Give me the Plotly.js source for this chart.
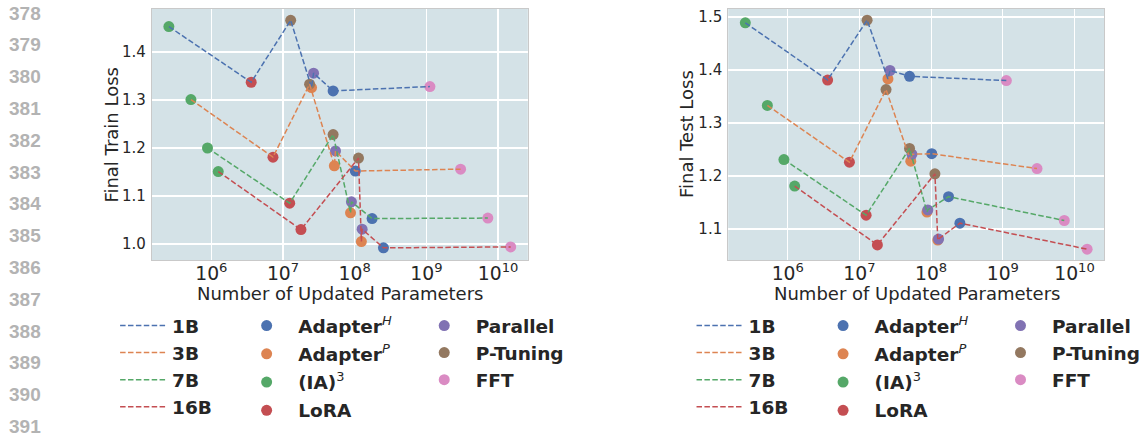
<!DOCTYPE html>
<html><head><meta charset="utf-8">
<script src="https://cdn.plot.ly/plotly-3.0.1.min.js"></script>
<style>html,body{margin:0;padding:0;background:#fff;} #chart{width:1145px;height:437px;}</style>
</head><body><div id="chart"></div>
<script>
// ---------- data ----------
const sizes = ['1B', '3B', '7B', '16B'];
const methods = ['Adapter^H', 'Adapter^P', '(IA)^3', 'LoRA', 'Parallel', 'P-Tuning', 'FFT'];
const methodLabels = ['<b>Adapter</b><sup><i>H</i></sup>', '<b>Adapter</b><sup><i>P</i></sup>', '<b>(IA)</b><sup>3</sup>', '<b>LoRA</b>', '<b>Parallel</b>', '<b>P-Tuning</b>', '<b>FFT</b>'];
const xTitle = 'Number of Updated Parameters';
const yTitles = ['Final Train Loss', 'Final Test Loss'];

// number of updated parameters, per method, for sizes 1B, 3B, 7B, 16B
const paramsAdapterH = [5.0e7, 1.02e8, 1.75e8, 2.52e8];
const paramsAdapterP = [2.5e7, 5.2e7, 8.75e7, 1.24e8];
const paramsIA3      = [2.56e5, 5.2e5, 8.85e5, 1.25e6];
const paramsLoRA     = [3.6e6, 7.25e6, 1.24e7, 1.78e7];
const paramsParallel = [2.67e7, 5.4e7, 9.0e7, 1.27e8];
const paramsPTuning  = [1.28e7, 2.35e7, 5.0e7, 1.13e8];
const paramsFFT      = [1.12e9, 3.0e9, 7.2e9, 1.5e10];

// final train loss
const trainAdapterH = [1.319, 1.152, 1.053, 0.992];
const trainAdapterP = [1.326, 1.163, 1.065, 1.005];
const trainIA3      = [1.453, 1.301, 1.200, 1.151];
const trainLoRA     = [1.337, 1.181, 1.085, 1.030];
const trainParallel = [1.356, 1.194, 1.088, 1.031];
const trainPTuning  = [1.466, 1.333, 1.228, 1.179];
const trainFFT      = [1.328, 1.156, 1.054, 0.994];

// final test loss
const testAdapterH = [1.388, 1.242, 1.161, 1.111];
const testAdapterP = [1.383, 1.228, 1.132, 1.079];
const testIA3      = [1.489, 1.333, 1.231, 1.181];
const testLoRA     = [1.381, 1.226, 1.126, 1.070];
const testParallel = [1.399, 1.241, 1.136, 1.081];
const testPTuning  = [1.494, 1.363, 1.252, 1.204];
const testFFT      = [1.380, 1.214, 1.116, 1.062];

const lineNumbers = [378, 379, 380, 381, 382, 383, 384, 385, 386, 387, 388, 389, 390, 391];

// ---------- styling ----------
const W = 1145, H = 437;
const sizeColors = ['#4C72B0', '#DD8452', '#55A868', '#C44E52'];
const methodColors = ['#4C72B0', '#DD8452', '#55A868', '#C44E52', '#8172B3', '#937860', '#DA8BC3'];
const FONT = 'DejaVu Sans';
const TXT = '#262626';

const params = [paramsAdapterH, paramsAdapterP, paramsIA3, paramsLoRA, paramsParallel, paramsPTuning, paramsFFT];
const panels = [
  {loss: [trainAdapterH, trainAdapterP, trainIA3, trainLoRA, trainParallel, trainPTuning, trainFFT], xa: 'x', ya: 'y', legs: ['legend', 'legend2', 'legend3'], cx: 343, ty: 112},
  {loss: [testAdapterH, testAdapterP, testIA3, testLoRA, testParallel, testPTuning, testFFT], xa: 'x2', ya: 'y2', legs: ['legend4', 'legend5', 'legend6'], cx: 924, ty: 692}
];

const traces = [];
panels.forEach((p, pi) => {
  // markers first
  methods.forEach((m, mi) => {
    traces.push({
      type: 'scatter', mode: 'markers', name: methodLabels[mi],
      x: params[mi], y: p.loss[mi], xaxis: p.xa, yaxis: p.ya,
      marker: {color: methodColors[mi], size: 11, line: {width: 0}},
      legend: mi < 4 ? p.legs[1] : p.legs[2],
      legendgroup: 'g' + pi + '_' + mi,
      hoverinfo: 'x+y+name'
    });
  });
  // dashed lines on top
  sizes.forEach((s, si) => {
    const pts = methods.map((m, mi) => [params[mi][si], p.loss[mi][si]]).sort((a, b) => a[0] - b[0]);
    traces.push({
      type: 'scatter', mode: 'lines', name: '<b>' + s + '</b>',
      x: pts.map(d => d[0]), y: pts.map(d => d[1]), xaxis: p.xa, yaxis: p.ya,
      line: {color: sizeColors[si], width: 1.5, dash: '5.5px,2.4px'},
      legend: p.legs[0], legendgroup: 's' + pi + '_' + si
    });
  });
});

function axX(domain) {
  return {
    type: 'log', domain: domain, range: [5.17, 10.415], dtick: 1, exponentformat: 'power',
    showgrid: true, gridcolor: '#ffffff', gridwidth: 1.2, zeroline: false,
    showline: true, linecolor: '#c9c9c9', linewidth: 1, mirror: true, ticks: '',
    ticklabelstandoff: -3,
    tickfont: {family: FONT, size: 15, color: TXT}, automargin: false
  };
}
function axY(range, anchor) {
  return {
    domain: [1 - 260 / H, 1 - 9 / H], range: range, dtick: 0.1, tick0: 1.0, tickformat: '.1f',
    showgrid: true, gridcolor: '#ffffff', gridwidth: 1.2, zeroline: false,
    showline: true, linecolor: '#c9c9c9', linewidth: 1, mirror: true, ticks: '',
    ticklabelstandoff: 2,
    tickfont: {family: FONT, size: 15, color: TXT}, automargin: false, anchor: anchor
  };
}
function leg(xpx, ypx, gap, iw) {
  return {x: xpx / W, y: 1 - ypx / H, xanchor: 'left', yanchor: 'top', bgcolor: 'rgba(0,0,0,0)',
    borderwidth: 0, font: {family: FONT, size: 18.5, color: TXT}, tracegroupgap: gap, itemwidth: iw};
}

const annotations = lineNumbers.map((n, i) => ({
  xref: 'paper', yref: 'paper', x: 25 / W, y: 1 - (13 + i * 31.8) / H,
  xanchor: 'center', yanchor: 'middle', showarrow: false, text: '<b>' + n + '</b>',
  font: {family: 'Liberation Sans', size: 19, color: '#b3b3b3'}
}));
panels.forEach((p, pi) => {
  annotations.push({
    xref: 'paper', yref: 'paper', x: p.cx / W, y: 1 - 293 / H, xanchor: 'center', yanchor: 'middle',
    showarrow: false, text: xTitle, font: {family: FONT, size: 18, color: TXT}, borderpad: 0
  });
  annotations.push({
    xref: 'paper', yref: 'paper', x: p.ty / W, y: 1 - 134.5 / H, xanchor: 'center', yanchor: 'middle',
    textangle: -90, showarrow: false, text: yTitles[pi], font: {family: FONT, size: 18, color: TXT}, borderpad: 0
  });
});

const layout = {
  width: W, height: H, margin: {l: 0, r: 0, t: 0, b: 0},
  paper_bgcolor: '#ffffff', plot_bgcolor: '#d4e2e7', showlegend: true,
  font: {family: FONT, color: TXT},
  xaxis: Object.assign(axX([153 / W, 532 / W]), {anchor: 'y'}),
  yaxis: axY([0.9667, 1.4896], 'x'),
  xaxis2: Object.assign(axX([734 / W, 1113 / W]), {anchor: 'y2'}),
  yaxis2: axY([1.0415, 1.515], 'x2'),
  legend: leg(116, 307, 0, 47),
  legend2: leg(237, 307, 1.2, 53),
  legend3: leg(416, 307, 0, 53),
  legend4: leg(697, 307, 0, 47),
  legend5: leg(818, 307, 1.2, 53),
  legend6: leg(997, 307, 0, 53),
  annotations: annotations
};

Plotly.newPlot('chart', traces, layout, {displayModeBar: false, staticPlot: true});
</script></body></html>
